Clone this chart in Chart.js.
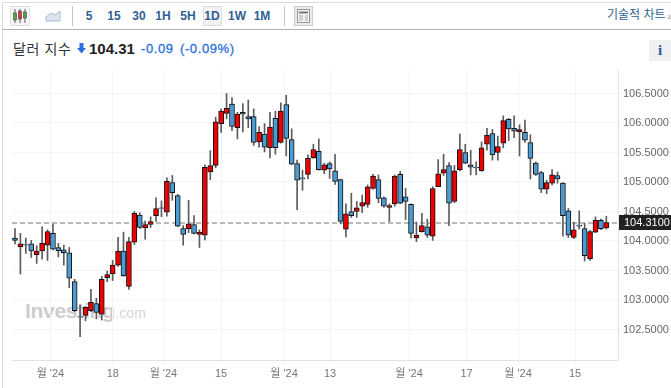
<!DOCTYPE html>
<html lang="ko">
<head>
<meta charset="utf-8">
<title>달러 지수</title>
<script src="https://cdn.jsdelivr.net/npm/chart.js@4/dist/chart.umd.min.js"></script>
<style>
html, body { margin: 0; padding: 0; background: #fff; overflow: hidden; }
body { width: 671px; height: 388px; position: relative; font-family: "Liberation Sans", "Noto Sans CJK KR", sans-serif; }
#chart { position: absolute; left: 0; top: 0; z-index: 2; }
.abs { position: absolute; white-space: nowrap; }
.rule { position: absolute; background: #dcdcdc; }
.tf { position: absolute; top: 9px; font-size: 12px; font-weight: bold; color: #2f5f93; transform: translateX(-50%); line-height: 14px; }
.box { position: absolute; background: #f2f2f2; border: 1px solid #dedede; box-sizing: border-box; }
.chg { font-size: 13px; color: #2a6fdb; line-height: 17px; letter-spacing: 0.6px; -webkit-text-stroke: 0.3px #2a6fdb; }
#mark { position: absolute; left: 25px; top: 297px; z-index: 1; color: #cdcdcd; font-weight: bold; font-size: 21px; letter-spacing: -0.3px; line-height: 28px; white-space: nowrap; }
#mark span { font-weight: normal; font-size: 14px; color: #d6d6d6; letter-spacing: 0; margin-left: 1px; }
</style>
</head>
<body>
<div class="rule" style="left:2px;top:2px;width:1px;height:386px"></div>
<div class="rule" style="left:2px;top:2px;width:669px;height:1px"></div>
<div class="rule" style="left:2px;top:29px;width:669px;height:1px;background:#b0b0b0"></div>
<div class="rule" style="left:72px;top:6px;width:1px;height:20px;background:#c4c4c4"></div>
<div class="rule" style="left:284px;top:6px;width:1px;height:20px;background:#c4c4c4"></div>

<div class="box" style="left:10px;top:6px;width:20px;height:20px;background:#f7f7f7"></div>
<svg class="abs" style="left:12px;top:8px" width="16" height="16">
  <path d="M3 1v14M8 1v14M13 1v14" stroke="#555" stroke-width="1"/>
  <rect x="1.5" y="5" width="3" height="7" fill="#55a04a" stroke="#444" stroke-width="0.6"/>
  <rect x="6.5" y="3" width="3" height="8" fill="#e03030" stroke="#444" stroke-width="0.6"/>
  <rect x="11.5" y="4" width="3" height="6" fill="#55a04a" stroke="#444" stroke-width="0.6"/>
</svg>
<svg class="abs" style="left:45px;top:9px" width="16" height="13">
  <path d="M1 8L6 4L10 6L15 2V12H1Z" fill="#dbe4ef" stroke="#a9bdd3" stroke-width="1"/>
</svg>
<div class="box" style="left:203px;top:6px;width:19px;height:20px"></div>
<div class="tf" style="left:89px">5</div>
<div class="tf" style="left:114px">15</div>
<div class="tf" style="left:139px">30</div>
<div class="tf" style="left:163px">1H</div>
<div class="tf" style="left:188px">5H</div>
<div class="tf" style="left:212px">1D</div>
<div class="tf" style="left:237px">1W</div>
<div class="tf" style="left:262px">1M</div>
<div class="box" style="left:294px;top:6px;width:19px;height:20px;background:#e9e9e9;border-color:#ccc"></div>
<svg class="abs" style="left:297px;top:9px" width="13" height="14">
  <rect x="0.5" y="0.5" width="12" height="13" fill="#f4f4f4" stroke="#999"/>
  <path d="M2 3.5H11" stroke="#777" stroke-width="2"/>
  <path d="M2 7H6M2 9H6M2 11H6M8 7H11M8 9H11M8 11H11" stroke="#aaa" stroke-width="1"/>
</svg>
<div class="abs" style="left:607px;top:7px;font-size:12px;color:#2f5f93;line-height:16px">기술적 차트</div>
<div class="abs" style="left:667px;top:9px;font-size:11px;color:#999;line-height:14px">»</div>

<div class="abs" style="left:13px;top:40px;font-size:14px;color:#333;line-height:18px;letter-spacing:0.6px">달러 지수</div>
<svg class="abs" style="left:77px;top:43px" width="9" height="11"><path d="M2.5 0H6.5V5H9L4.5 10.5L0 5H2.5Z" fill="#2a6fdb"/></svg>
<div class="abs" style="left:89px;top:39px;font-size:15px;font-weight:bold;color:#222;line-height:19px">104.31</div>
<div class="abs chg" style="left:141px;top:40px">-0.09</div>
<div class="abs chg" style="left:180px;top:40px">(-0.09%)</div>
<div class="abs" style="left:649px;top:40px;width:22px;height:21px;background:#f0f0f0;text-align:center;font:bold 15px/21px 'Liberation Serif',serif;color:#23609f">i</div>

<div id="mark">Investing<span>.com</span></div>
<canvas id="chart" width="671" height="388"></canvas>

<script>
const opens = [
  104.05, 103.90, 103.94, 103.95, 103.77, 103.83, 103.93, 104.13, 103.89, 103.85,
  103.80, 103.31, 102.72, 102.74, 102.82, 102.94, 102.76, 103.38, 103.44, 103.59,
  103.83, 103.23, 103.98, 104.44, 104.22, 104.28, 104.43, 104.56, 104.49, 104.99,
  104.77, 104.21, 104.21, 104.28, 104.11, 104.10, 105.17, 105.28, 105.99, 106.16,
  106.32, 105.92, 106.18, 106.11, 106.11, 105.68, 105.81, 105.58, 106.08, 105.67,
  106.31, 105.72, 105.31, 105.07, 105.13, 105.41, 105.52, 105.20, 105.31, 105.19,
  105.04, 104.20, 104.50, 104.50, 104.59, 104.62, 104.89, 105.04, 104.73, 104.57,
  104.63, 105.13, 104.75, 104.62, 104.05, 104.16, 104.24, 104.08, 104.92, 105.15,
  105.28, 104.67, 105.21, 105.50, 105.29, 105.25, 105.19, 105.64, 105.82, 105.50,
  105.66, 106.06, 105.91, 105.85, 105.84, 105.67, 105.32, 105.16, 104.88, 104.98,
  105.11, 104.98, 104.51, 104.06, 104.27, 104.21, 103.70, 104.15, 104.35, 104.22
];
const highs = [
  104.21, 104.13, 104.05, 104.01, 103.92, 104.24, 104.19, 104.29, 103.96, 103.93,
  103.89, 103.35, 102.92, 102.89, 103.18, 103.03, 103.40, 103.49, 103.67, 104.06,
  104.15, 104.06, 104.50, 104.48, 104.34, 104.41, 104.73, 104.68, 105.07, 105.11,
  104.79, 104.26, 104.69, 104.43, 104.19, 105.29, 105.53, 106.10, 106.24, 106.50,
  106.43, 106.18, 106.33, 106.39, 106.24, 105.94, 105.99, 106.18, 106.20, 106.34,
  106.47, 105.90, 105.37, 105.20, 105.46, 105.64, 105.73, 105.32, 105.34, 105.47,
  105.05, 104.63, 104.81, 104.67, 104.78, 104.95, 105.13, 105.12, 104.75, 104.63,
  105.12, 105.18, 104.89, 104.63, 104.32, 104.47, 104.37, 104.92, 105.38, 105.47,
  105.33, 105.28, 105.81, 105.64, 105.54, 105.34, 105.68, 105.91, 105.89, 105.78,
  106.12, 106.08, 106.12, 105.97, 106.05, 105.80, 105.34, 105.18, 105.03, 105.21,
  105.17, 104.99, 104.55, 104.32, 104.51, 104.30, 104.18, 104.41, 104.37, 104.42
];
const lows = [
  103.95, 103.44, 103.79, 103.72, 103.62, 103.69, 103.67, 103.85, 103.73, 103.59,
  103.21, 102.80, 102.38, 102.65, 102.80, 102.68, 102.66, 103.31, 103.33, 103.57,
  103.40, 103.18, 103.94, 104.21, 104.03, 104.23, 104.33, 104.41, 104.42, 104.69,
  104.24, 103.93, 104.14, 104.12, 103.89, 104.02, 105.04, 105.24, 105.84, 106.07,
  105.87, 105.73, 105.85, 105.92, 105.62, 105.59, 105.51, 105.41, 105.47, 105.66,
  105.44, 105.29, 104.53, 104.86, 105.05, 105.40, 105.20, 105.14, 105.06, 104.96,
  104.29, 104.07, 104.40, 104.40, 104.48, 104.57, 104.88, 104.65, 104.57, 104.33,
  104.59, 104.63, 104.36, 104.05, 103.99, 104.15, 104.06, 104.01, 104.92, 105.11,
  104.26, 104.65, 105.19, 105.31, 105.12, 105.12, 105.18, 105.54, 105.37, 105.37,
  105.58, 105.70, 105.75, 105.44, 105.67, 105.05, 105.11, 104.82, 104.80, 104.95,
  104.98, 104.08, 104.06, 104.04, 104.20, 103.66, 103.67, 104.14, 104.19, 104.20
];
const closes = [
  104.01, 103.95, 103.93, 103.83, 103.83, 103.96, 104.16, 103.86, 103.83, 103.80,
  103.37, 102.82, 102.71, 102.88, 102.96, 102.79, 103.35, 103.43, 103.59, 103.83,
  103.41, 103.99, 104.47, 104.23, 104.28, 104.33, 104.55, 104.55, 105.01, 104.82,
  104.25, 104.11, 104.29, 104.13, 104.15, 105.25, 105.28, 106.02, 106.20, 106.25,
  105.94, 106.15, 106.15, 106.07, 105.67, 105.84, 105.59, 105.93, 105.58, 106.20,
  105.74, 105.30, 105.03, 105.05, 105.40, 105.55, 105.21, 105.29, 105.22, 105.01,
  104.33, 104.46, 104.43, 104.56, 104.65, 104.92, 105.10, 104.72, 104.59, 104.60,
  105.10, 104.64, 104.67, 104.13, 104.10, 104.26, 104.10, 104.89, 105.14, 105.21,
  104.64, 105.19, 105.55, 105.32, 105.25, 105.24, 105.58, 105.79, 105.46, 105.60,
  106.04, 105.90, 105.86, 105.89, 105.71, 105.40, 105.13, 104.88, 104.99, 105.12,
  105.05, 104.43, 104.10, 104.19, 104.25, 103.75, 104.16, 104.35, 104.21, 104.31
];

const lastPrice = 104.31;
const yTicks = [102.5, 103, 103.5, 104, 104.5, 105, 105.5, 106, 106.5];
const xTickPositions = [6.53, 18.03, 27.36, 37.98, 49.59, 58.07, 72.63, 83.23, 92.72, 103.23];
const xTickLabels = ["월 '24", "18", "월 '24", "15", "월 '24", "13", "월 '24", "17", "월 '24", "15"];

const upColor = "#ef0000";
const downColor = "#4d9bd2";
const lineColor = "#f1f4f8";
const axisColor = "#dde3ea";

const priceLine = {
    id: "priceLine",
    beforeDatasetsDraw(chart) {
        const { ctx, chartArea, scales } = chart;
        const y = Math.round(scales.y.getPixelForValue(lastPrice));
        ctx.save();
        ctx.strokeStyle = "#777";
        ctx.lineWidth = 1.2;
        ctx.setLineDash([5, 3]);
        ctx.beginPath();
        ctx.moveTo(chartArea.left, y);
        ctx.lineTo(chartArea.right, y);
        ctx.stroke();
        ctx.restore();
    },
    afterDraw(chart) {
        const { ctx, chartArea, scales } = chart;
        const y = Math.round(scales.y.getPixelForValue(lastPrice));
        ctx.save();
        ctx.fillStyle = "#222";
        ctx.fillRect(chartArea.right + 1, y - 8, 53, 15);
        ctx.fillStyle = "#fff";
        ctx.font = "11px 'Liberation Sans'";
        ctx.textBaseline = "middle";
        ctx.fillText(lastPrice.toFixed(4), chartArea.right + 6, y);
        ctx.restore();
    }
};

new Chart(document.getElementById("chart"), {
    type: "bar",
    data: {
        datasets: [{
            // candle bodies
            data: closes.map((c, i) => ({ x: i, y: [opens[i], c] })),
            backgroundColor: closes.map((c, i) => c >= opens[i] ? upColor : downColor),
            borderColor: "#111",
            borderWidth: 1,
            borderSkipped: false,
            barThickness: 5,
            grouped: false,
            order: 1
        }, {
            // wicks
            data: highs.map((h, i) => ({ x: i, y: [lows[i], h] })),
            backgroundColor: "#5c5c5c",
            barThickness: 1,
            grouped: false,
            order: 2
        }]
    },
    options: {
        responsive: false,
        animation: false,
        layout: { padding: { left: 12, top: 70, right: 0, bottom: 0 } },
        plugins: {
            legend: { display: false },
            tooltip: { enabled: false }
        },
        scales: {
            x: {
                type: "linear",
                offset: false,
                min: -0.55,
                max: 111.15,
                afterBuildTicks: axis => {
                    axis.ticks = xTickPositions.map(v => ({ value: v }));
                },
                afterFit: axis => { axis.height = 28; },
                grid: { offset: false, color: lineColor, tickColor: lineColor, tickLength: 5 },
                border: { color: axisColor },
                ticks: {
                    autoSkip: false,
                    maxRotation: 0,
                    padding: 2,
                    color: "#777",
                    font: { family: "'Liberation Sans','Noto Sans CJK KR'", size: 11 },
                    callback: (value, index) => xTickLabels[index]
                }
            },
            y: {
                position: "right",
                min: 101.983,
                max: 106.898,
                afterBuildTicks: axis => {
                    axis.ticks = yTicks.map(v => ({ value: v }));
                },
                afterFit: axis => { axis.width = 53; },
                grid: { color: lineColor, tickColor: lineColor, tickLength: 5 },
                border: { color: axisColor },
                ticks: {
                    padding: 0,
                    color: "#666",
                    font: { family: "'Liberation Sans'", size: 11 },
                    callback: value => value.toFixed(4)
                }
            }
        }
    },
    plugins: [priceLine]
});
</script>
</body>
</html>
